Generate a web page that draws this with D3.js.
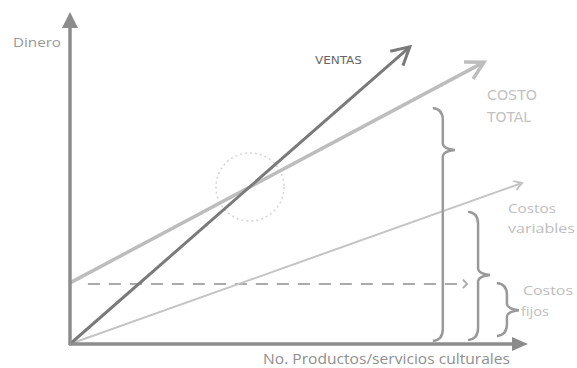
<!DOCTYPE html>
<html>
<head>
<meta charset="utf-8">
<script src="https://cdn.jsdelivr.net/npm/d3@7"></script>
<style>
  body { margin: 0; background: #fff; }
  svg { display: block; }
  text { font-family: "Open Sans", "DejaVu Sans", sans-serif; }
</style>
</head>
<body>
<div id="chart"></div>
<script>
var w = 577;
var h = 368;

// data in chart units (0..100 on both axes)
var ventas = [[0, 0], [74.2, 89.5]];
var costoTotal = [[0, 18.4], [90.4, 84.9]];
var costosVariables = [[0, 0], [98.7, 48.5]];
var costosFijos = [[3.9, 18.1], [86.7, 18.1]];
var equilibrio = [39.3, 47.3];

// braces: x, top, middle (tip), bottom
var braceX = [81.4, 89.1, 95.4];
var braceTop = [71.1, 39.8, 18.4];
var braceMid = [58.4, 20.8, 10.2];
var braceBottom = [0.9, 1.2, 2.4];

var labelVentas = "VENTAS";
var labelCostoTotal = ["COSTO", "TOTAL"];
var labelVariables = ["Costos", "variables"];
var labelFijos = ["Costos", "fijos"];
var labelY = "Dinero";
var labelX = "No. Productos/servicios culturales";

var x = d3.scaleLinear().domain([0, 100]).range([70, 528]);
var y = d3.scaleLinear().domain([0, 100]).range([344, 12]);

var svg = d3.select("#chart")
            .append("svg")
            .attr("width", w)
            .attr("height", h);

var line = d3.line().x(function(d) { return x(d[0]); }).y(function(d) { return y(d[1]); });

// open chevron at the end of a segment
var chevron = function(pts, len, spread) {
   var a = pts[pts.length - 2], b = pts[pts.length - 1];
   var x1 = x(a[0]), y1 = y(a[1]), x2 = x(b[0]), y2 = y(b[1]);
   var ang = Math.atan2(y2 - y1, x2 - x1);
   var p = d3.path();
   p.moveTo(x2 - len * Math.cos(ang - spread), y2 - len * Math.sin(ang - spread));
   p.lineTo(x2, y2);
   p.lineTo(x2 - len * Math.cos(ang + spread), y2 - len * Math.sin(ang + spread));
   return p.toString();
}

// curly brace pointing right
var brace = function(i) {
   var bx = x(braceX[i]), yt = y(braceTop[i]), ym = y(braceMid[i]), yb = y(braceBottom[i]);
   var p = d3.path();
   p.moveTo(bx - 10, yt);
   p.quadraticCurveTo(bx, yt + 1, bx, yt + 12);
   p.lineTo(bx, ym - 6);
   p.quadraticCurveTo(bx + 1, ym - 1, bx + 12, ym);
   p.quadraticCurveTo(bx + 1, ym + 1, bx, ym + 6);
   p.lineTo(bx, yb - 12);
   p.quadraticCurveTo(bx, yb - 1, bx - 10, yb);
   return p.toString();
}

// break-even circle
svg.append("circle")
   .attr("cx", x(equilibrio[0]))
   .attr("cy", y(equilibrio[1]))
   .attr("r", 34)
   .attr("fill", "none")
   .attr("stroke", "#d4d4d4")
   .attr("stroke-width", 1.5)
   .attr("stroke-dasharray", "2 3");

// costos fijos (dashed)
svg.append("path")
   .attr("d", line(costosFijos))
   .attr("stroke", "#aaa")
   .attr("stroke-width", 2)
   .attr("stroke-dasharray", "12 9")
   .attr("fill", "none");
svg.append("path")
   .attr("d", chevron(costosFijos, 6, 0.8))
   .attr("stroke", "#aaa")
   .attr("stroke-width", 1.8)
   .attr("fill", "none");

// costos variables
svg.append("path")
   .attr("d", line(costosVariables))
   .attr("stroke", "#c4c4c4")
   .attr("stroke-width", 2)
   .attr("fill", "none");
svg.append("path")
   .attr("d", chevron(costosVariables, 9, 0.55))
   .attr("stroke", "#c4c4c4")
   .attr("stroke-width", 2)
   .attr("fill", "none");

// costo total
svg.append("path")
   .attr("d", line(costoTotal))
   .attr("stroke", "#bdbdbd")
   .attr("stroke-width", 3.5)
   .attr("fill", "none");
svg.append("path")
   .attr("d", chevron(costoTotal, 20, 0.5))
   .attr("stroke", "#bdbdbd")
   .attr("stroke-width", 3.5)
   .attr("fill", "none");

// ventas
svg.append("path")
   .attr("d", line(ventas))
   .attr("stroke", "#7a7a7a")
   .attr("stroke-width", 3)
   .attr("fill", "none");
svg.append("path")
   .attr("d", chevron(ventas, 20, 0.5))
   .attr("stroke", "#7a7a7a")
   .attr("stroke-width", 3)
   .attr("fill", "none");

// braces
svg.selectAll(".brace")
   .data(braceX)
   .enter()
   .append("path")
   .attr("class", "brace")
   .attr("d", function(d, i) { return brace(i); })
   .attr("stroke", "#9a9a9a")
   .attr("stroke-width", 2.5)
   .attr("fill", "none");

// axes
svg.append("line")
   .attr("x1", x(0)).attr("y1", y(0) + 1)
   .attr("x2", x(0)).attr("y2", y(100) + 12)
   .attr("stroke", "#8c8c8c")
   .attr("stroke-width", 3.5);
svg.append("path")
   .attr("d", "M" + (x(0) - 8) + "," + (y(100) + 16) + "L" + x(0) + "," + y(100) + "L" + (x(0) + 8) + "," + (y(100) + 16) + "Z")
   .attr("fill", "#8c8c8c");
svg.append("line")
   .attr("x1", x(0) - 1).attr("y1", y(0))
   .attr("x2", x(100) - 12).attr("y2", y(0))
   .attr("stroke", "#8c8c8c")
   .attr("stroke-width", 3.5);
svg.append("path")
   .attr("d", "M" + (x(100) - 16) + "," + (y(0) - 7) + "L" + x(100) + "," + y(0) + "L" + (x(100) - 16) + "," + (y(0) + 7) + "Z")
   .attr("fill", "#8c8c8c");

// labels
svg.append("text")
   .attr("x", 13).attr("y", 47)
   .attr("font-size", 13)
   .attr("fill", "#999")
   .attr("textLength", 48)
   .attr("lengthAdjust", "spacingAndGlyphs")
   .text(labelY);

svg.append("text")
   .attr("x", 263).attr("y", 364)
   .attr("font-size", 14)
   .attr("fill", "#8f8f8f")
   .attr("textLength", 247)
   .attr("lengthAdjust", "spacingAndGlyphs")
   .text(labelX);

svg.append("text")
   .attr("x", 315).attr("y", 64)
   .attr("font-size", 11)
   .attr("fill", "#666")
   .attr("textLength", 47)
   .attr("lengthAdjust", "spacingAndGlyphs")
   .style("font-family", "'Liberation Sans Narrow', 'DejaVu Sans Condensed', sans-serif")
   .text(labelVentas);

svg.selectAll(".ct")
   .data(labelCostoTotal)
   .enter()
   .append("text")
   .attr("x", 487)
   .attr("y", function(d, i) { return 100 + i * 22; })
   .attr("font-size", 14)
   .attr("fill", "#c2c2c2")
   .attr("textLength", function(d, i) { return i == 0 ? 50 : 44; })
   .attr("lengthAdjust", "spacingAndGlyphs")
   .style("font-family", "'Liberation Sans Narrow', 'DejaVu Sans Condensed', sans-serif")
   .text(function(d) { return d; });

svg.selectAll(".cv")
   .data(labelVariables)
   .enter()
   .append("text")
   .attr("x", 508)
   .attr("y", function(d, i) { return 213 + i * 20; })
   .attr("font-size", 13.5)
   .attr("fill", "#bdbdbd")
   .attr("textLength", function(d, i) { return i == 0 ? 48 : 67; })
   .attr("lengthAdjust", "spacingAndGlyphs")
   .text(function(d) { return d; });

svg.selectAll(".cf")
   .data(labelFijos)
   .enter()
   .append("text")
   .attr("x", function(d, i) { return i == 0 ? 523 : 521; })
   .attr("y", function(d, i) { return 295 + i * 21; })
   .attr("font-size", 13.5)
   .attr("fill", "#bdbdbd")
   .attr("textLength", function(d, i) { return i == 0 ? 50 : 28; })
   .attr("lengthAdjust", "spacingAndGlyphs")
   .text(function(d) { return d; });
</script>
</body>
</html>
